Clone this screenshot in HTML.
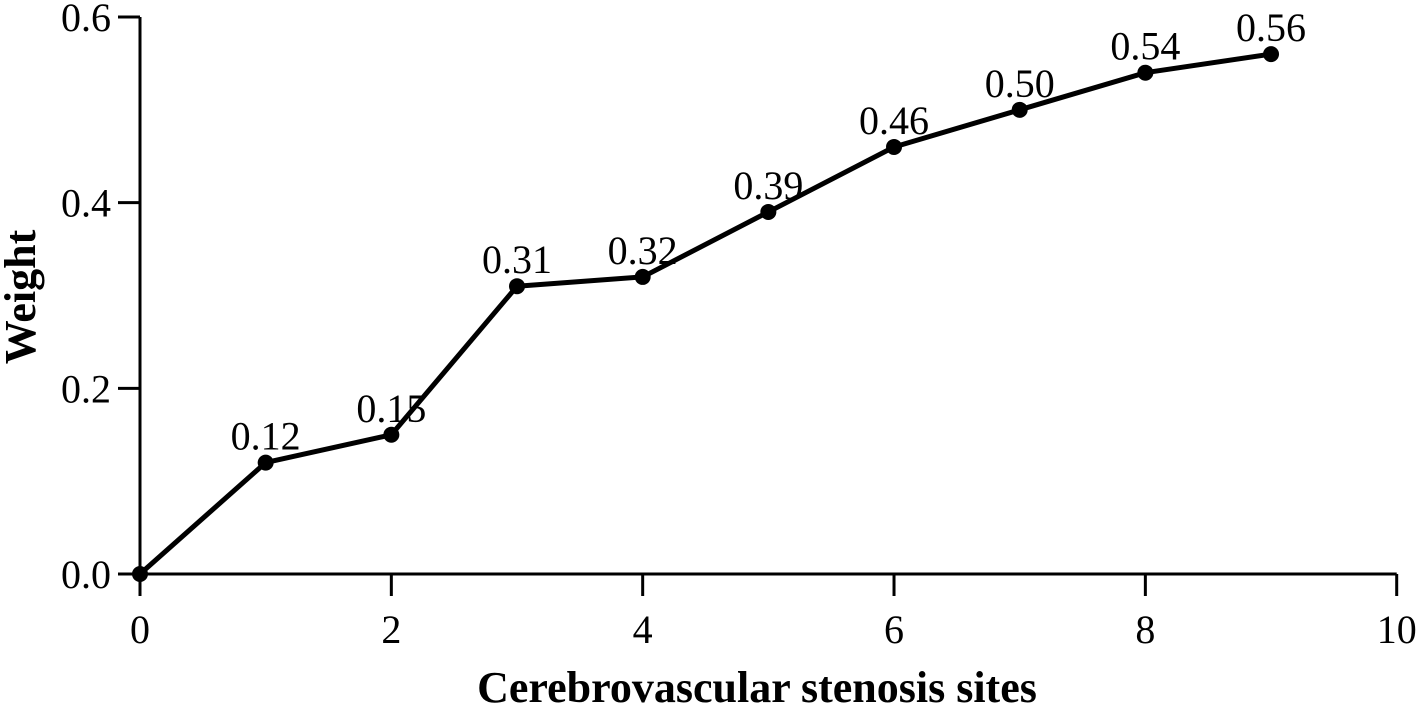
<!DOCTYPE html>
<html><head><meta charset="utf-8"><style>
html,body{margin:0;padding:0;background:#fff;}
svg text{font-family:"Liberation Serif",serif;fill:#000;}
</style></head><body>
<svg width="1418" height="712" viewBox="0 0 1418 712">
<g id="axes"></g><g id="series"></g>
<text x="35" y="297" font-size="44" font-weight="bold" text-anchor="middle" transform="rotate(-90 35 297)">Weight</text>
<text x="757" y="702" font-size="44" font-weight="bold" text-anchor="middle">Cerebrovascular stenosis sites</text>
</svg>
<script>
const xValues=[0,1,2,3,4,5,6,7,8,9];
const weights=[0,0.12,0.15,0.31,0.32,0.39,0.46,0.50,0.54,0.56];
const pointLabels=["","0.12","0.15","0.31","0.32","0.39","0.46","0.50","0.54","0.56"];
const xTicks=[0,2,4,6,8,10];
const yTicks=[0,0.2,0.4,0.6];
const yTickLabels=["0.0","0.2","0.4","0.6"];
const NS="http://www.w3.org/2000/svg";
const X=v=>140+v*125.67, Y=v=>574-v/0.6*557;
function mk(t,a,p){const e=document.createElementNS(NS,t);for(const k in a)e.setAttribute(k,a[k]);p.appendChild(e);return e;}
const ax=document.getElementById('axes'), se=document.getElementById('series');
let l=mk('line',{x1:X(0),y1:Y(0),x2:X(10),y2:Y(0),stroke:'#000','stroke-width':3},ax);


l=mk('line',{x1:X(0),y1:Y(0),x2:X(0),y2:Y(0.6),stroke:'#000','stroke-width':3},ax);


xTicks.forEach(v=>{
 const t=mk('line',{x1:X(v),y1:Y(0),x2:X(v),y2:Y(0)+22,stroke:'#000','stroke-width':3},ax);
 
 
 const tx=mk('text',{x:X(v),y:Y(0)+69,'font-size':40,'text-anchor':'middle'},ax);tx.textContent=v;
 
 
});
yTicks.forEach((v,i)=>{
 const t=mk('line',{x1:X(0)-22,y1:Y(v),x2:X(0),y2:Y(v),stroke:'#000','stroke-width':3},ax);
 
 
 const tx=mk('text',{x:X(0)-29,y:Y(v)+14,'font-size':40,'text-anchor':'end'},ax);tx.textContent=yTickLabels[i];
 
 
});
const pl=mk('polyline',{points:xValues.map((x,i)=>X(x)+','+Y(weights[i])).join(' '),fill:'none',stroke:'#000','stroke-width':5,'stroke-linejoin':'round'},se);


xValues.forEach((x,i)=>{
 const c=mk('circle',{cx:X(x),cy:Y(weights[i]),r:8,fill:'#000'},se);
 
 
 if(pointLabels[i]){
  const t=mk('text',{x:X(x),y:Y(weights[i])-13,'font-size':40,'text-anchor':'middle'},se);t.textContent=pointLabels[i];
  
  
 }
});
</script>
</body></html>
